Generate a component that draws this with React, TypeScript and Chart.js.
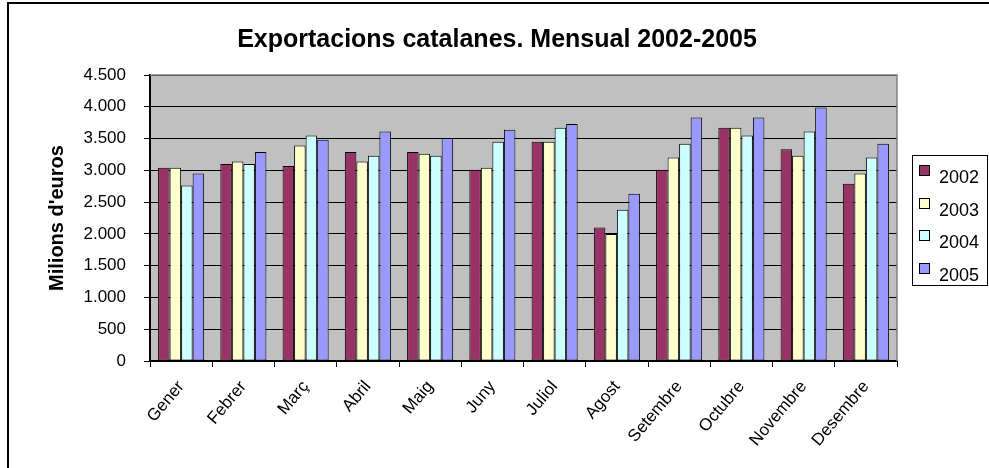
import React, { useEffect, useRef } from 'react';
import { Chart, registerables } from 'chart.js';

Chart.register(...registerables);

const months = ['Gener', 'Febrer', 'Març', 'Abril', 'Maig', 'Juny', 'Juliol', 'Agost', 'Setembre', 'Octubre', 'Novembre', 'Desembre'];
const years = ['2002', '2003', '2004', '2005'];
const values2002 = [3040, 3100, 3070, 3290, 3290, 3010, 3450, 2100, 3010, 3670, 3330, 2790];
const values2003 = [3040, 3140, 3390, 3140, 3260, 3040, 3450, 2000, 3200, 3670, 3230, 2950];
const values2004 = [2760, 3100, 3550, 3230, 3230, 3450, 3670, 2380, 3420, 3550, 3610, 3200];
const values2005 = [2950, 3290, 3480, 3610, 3510, 3640, 3730, 2630, 3830, 3830, 3990, 3420];
const seriesColors = ['#993366', '#FFFFCC', '#CCFFFF', '#9999FF'];
const yMax = 4500;
const yStep = 500;

const FONT = "'Liberation Sans', Arial, sans-serif";

const fmt = (v: number) => String(v).replace(/\B(?=(\d{3})+(?!\d))/g, '.');

const framePlugin = {
  id: 'frame',
  beforeDraw(chart: any) {
    const { ctx, chartArea } = chart;
    ctx.save();
    ctx.fillStyle = '#FFFFFF';
    ctx.fillRect(0, 0, chart.width, chart.height);
    ctx.fillStyle = '#C0C0C0';
    ctx.fillRect(chartArea.left, chartArea.top, chartArea.right - chartArea.left, chartArea.bottom - chartArea.top);
    ctx.restore();
  },
  beforeDatasetsDraw(chart: any) {
    const { ctx, chartArea } = chart;
    ctx.save();
    ctx.strokeStyle = '#808080';
    ctx.lineWidth = 1.5;
    ctx.beginPath();
    ctx.moveTo(chartArea.left, chartArea.top);
    ctx.lineTo(chartArea.right, chartArea.top);
    ctx.lineTo(chartArea.right, chartArea.bottom);
    ctx.stroke();
    ctx.restore();
  },
  afterDraw(chart: any) {
    const { ctx, chartArea } = chart;
    ctx.save();
    // outer frame
    ctx.strokeStyle = '#000000';
    ctx.lineWidth = 2;
    ctx.strokeRect(8, 3, chart.width + 10, chart.height + 10);

    // legend
    const ds = chart.data.datasets;
    const n = ds.length;
    const rowH = 32.5;
    const left = chartArea.right + 15;
    const right = chart.width - 2.5;
    const cy = (chartArea.top + chartArea.bottom) / 2 + 2;
    const top = cy - (n * rowH) / 2;
    ctx.lineWidth = 1;
    ctx.strokeStyle = '#000000';
    ctx.strokeRect(Math.round(left) + 0.5, Math.round(top) + 0.5, Math.round(right - left), Math.round(n * rowH));
    ctx.font = `18px ${FONT}`;
    ctx.textBaseline = 'middle';
    ctx.textAlign = 'left';
    ds.forEach((d: any, i: number) => {
      const sy = Math.round(top + 15 + i * rowH);
      const sx = Math.round(left + 7);
      ctx.fillStyle = d.backgroundColor;
      ctx.fillRect(sx, sy - 5, 11, 11);
      ctx.strokeRect(sx + 0.5, sy - 4.5, 10, 10);
      ctx.fillStyle = '#000000';
      ctx.fillText(d.label, sx + 20, sy + 8);
    });
    ctx.restore();
  },
};

export default function App() {
  const ref = useRef<HTMLCanvasElement | null>(null);

  useEffect(() => {
    document.body.style.margin = '0';
    const canvas = ref.current;
    if (!canvas) return;
    const dataSets = [values2002, values2003, values2004, values2005];
    const chart = new Chart(canvas, {
      type: 'bar',
      data: {
        labels: months,
        datasets: years.map((y, i) => ({
          label: y,
          data: dataSets[i],
          backgroundColor: seriesColors[i],
          borderColor: '#000000',
          borderWidth: 1,
          borderSkipped: false,
          barPercentage: 1,
          categoryPercentage: 0.74,
        })),
      },
      options: {
        responsive: false,
        animation: false,
        devicePixelRatio: 1,
        layout: { padding: { left: 7, right: 2, top: 0, bottom: 0 } },
        plugins: {
          legend: { display: false },
          tooltip: { enabled: false },
          title: {
            display: true,
            text: 'Exportacions catalanes. Mensual 2002-2005',
            color: '#000000',
            font: { family: FONT, size: 25, weight: 'bold' },
            padding: { top: 25, bottom: 20 },
          },
        },
        scales: {
          x: {
            border: { display: true, color: '#000000', width: 2 },
            grid: { display: true, drawOnChartArea: false, drawTicks: true, tickLength: 6, offset: true, color: '#000000', lineWidth: 1 },
            ticks: {
              color: '#000000',
              font: { family: FONT, size: 17 },
              minRotation: 50,
              maxRotation: 50,
              autoSkip: false,
              padding: 10,
            },
            afterFit: (scale: any) => {
              scale.height = 107;
            },
          },
          y: {
            min: 0,
            max: yMax,
            border: { display: true, color: '#000000', width: 2 },
            grid: { color: '#000000', lineWidth: 1, tickLength: 6, drawTicks: true },
            ticks: {
              stepSize: yStep,
              color: '#000000',
              font: { family: FONT, size: 17 },
              padding: 18,
              callback: (v: any) => fmt(Number(v)),
            },
            title: {
              display: true,
              text: "Milions d'euros",
              color: '#000000',
              font: { family: FONT, size: 20, weight: 'bold' },
              padding: { top: 38, bottom: 0 },
            },
            afterFit: (scale: any) => {
              scale.width = 143;
            },
          },
          legendSpace: {
            type: 'linear',
            position: 'right',
            display: true,
            grid: { display: false, drawTicks: false },
            border: { display: false },
            ticks: { display: false },
            afterFit: (scale: any) => {
              scale.width = 90;
            },
          },
        },
      },
      plugins: [framePlugin],
    });
    return () => chart.destroy();
  }, []);

  return (
    <div style={{ width: 989, height: 468 }}>
      <canvas ref={ref} width={989} height={468} />
    </div>
  );
}
